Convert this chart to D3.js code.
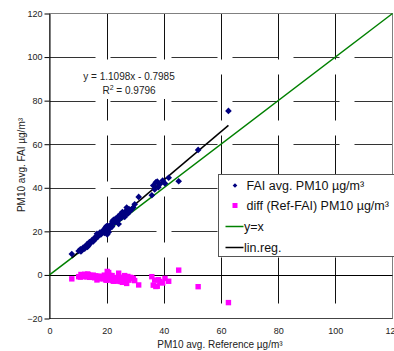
<!DOCTYPE html>
<html>
<head>
<meta charset="utf-8">
<script src="https://cdn.jsdelivr.net/npm/d3@7"></script>
<style>
  html, body { margin: 0; padding: 0; background: #fff; }
  svg { display: block; font-family: "Liberation Sans", Arial, sans-serif; }
</style>
</head>
<body>
<svg id="chart" width="394" height="351"></svg>
<script>
// PM10 reference vs FAI sampler averages (µg/m³)
const refValues = [7.8, 10.2, 10.8, 11.0, 11.3, 11.8, 12.3, 12.6, 13.1, 13.3, 13.6, 14.0, 14.4, 14.9, 15.3, 15.8,
  16.2, 16.6, 16.9, 17.1, 17.6, 18.0, 18.4, 18.9, 19.2, 19.6, 19.9, 20.0, 20.2, 20.3, 20.7, 21.1, 21.6, 21.9,
  22.0, 22.4, 22.8, 23.1, 23.5, 23.9, 24.0, 24.2, 24.5, 24.8, 25.2, 25.5, 25.9, 26.0, 26.3, 26.7, 27.0, 27.4,
  27.8, 28.2, 28.7, 29.3, 29.8, 31.2, 35.8, 36.3, 36.8, 37.2, 37.7, 38.1, 38.6, 39.6, 40.4, 41.7, 45.2, 52.0, 62.6];
const faiValues = [9.6, 11.0, 11.8, 10.8, 11.4, 12.6, 12.0, 13.2, 14.0, 12.9, 13.4, 15.1, 14.6, 16.0, 15.4, 17.1,
  16.6, 18.9, 17.6, 17.9, 19.4, 18.6, 19.9, 20.6, 19.3, 21.8, 22.3, 20.4, 18.6, 22.6, 19.6, 21.3, 23.4, 22.2,
  24.6, 25.3, 24.1, 25.8, 24.9, 26.7, 25.1, 23.4, 25.7, 27.8, 26.3, 28.9, 27.4, 28.3, 26.6, 29.4, 30.9, 28.1,
  30.2, 29.3, 30.0, 30.9, 32.4, 35.8, 36.6, 41.0, 39.2, 42.5, 42.9, 40.3, 41.6, 43.3, 42.0, 44.6, 43.0, 57.4, 75.3];
// Difference Ref - FAI for each sample
const diffValues = [-1.8, -0.8, -1.0, 0.2, -0.1, -0.8, 0.3, -0.6, -0.9, 0.4, 0.2, -1.1, -0.2, -1.1, -0.1, -1.3,
  -0.4, -2.3, -0.7, -0.8, -1.8, -0.6, -1.5, -1.7, -0.1, -2.2, -2.4, -0.4, 1.6, -2.3, 1.1, -0.2, -1.8, -0.3,
  -2.6, -2.9, -1.3, -2.7, -1.4, -2.8, -1.1, 0.8, -1.2, -3.0, -1.1, -3.4, -1.5, -2.3, -0.3, -2.7, -3.9, -0.7,
  -2.4, -1.1, -1.3, -1.6, -2.6, -4.6, -0.8, -4.7, -2.4, -5.3, -5.2, -2.2, -3.0, -3.7, -1.6, -2.9, 2.2, -5.4, -12.7];

// Linear regression of FAI on Ref
const regSlope = 1.1098;
const regIntercept = -0.7985;
const regR2 = 0.9796;

const xTicks = [0, 20, 40, 60, 80, 100, 120];
const yTicks = [-20, 0, 20, 40, 60, 80, 100, 120];

const legendLabels = ["FAI avg. PM10 µg/m³", "diff (Ref-FAI) PM10 µg/m³", "y=x", "lin.reg."];

const svg = d3.select("#chart");

const x = d3.scaleLinear().domain([0, 120]).range([49.5, 392.5]);
const y = d3.scaleLinear().domain([-20, 120]).range([318.5, 13.5]);

const navy = "#000080";
const magenta = "#ff00ff";
const green = "#008000";
const font = "'Liberation Sans', Arial, sans-serif";

// dashed grid
const grid = svg.append("g");
grid.selectAll("line.v").data(xTicks.filter(d => d > 0 && d < 120)).join("line")
  .attr("x1", d => Math.round(x(d)) + 0.5).attr("x2", d => Math.round(x(d)) + 0.5)
  .attr("y1", y(120)).attr("y2", y(-20))
  .attr("stroke", "#111").attr("stroke-width", 1).attr("stroke-dasharray", "46,15");
grid.selectAll("line.h").data(yTicks.filter(d => d > 0 && d < 120)).join("line")
  .attr("x1", x(0)).attr("x2", x(120))
  .attr("y1", d => Math.round(y(d)) + 0.5).attr("y2", d => Math.round(y(d)) + 0.5)
  .attr("stroke", "#333").attr("stroke-width", 1).attr("stroke-dasharray", "46,15");

// plot frame
svg.append("rect")
  .attr("x", x(0)).attr("y", y(120))
  .attr("width", x(120) - x(0)).attr("height", y(-20) - y(120))
  .attr("fill", "none").attr("stroke", "#808080");
svg.append("line")
  .attr("x1", x(0)).attr("x2", x(120)).attr("y1", y(-20)).attr("y2", y(-20))
  .attr("stroke", "#444");

// horizontal axis line at y = 0
svg.append("line")
  .attr("x1", x(0)).attr("x2", x(120))
  .attr("y1", Math.round(y(0)) + 0.5).attr("y2", Math.round(y(0)) + 0.5)
  .attr("stroke", "#000");

// y axis
const yAxis = svg.append("g")
  .attr("transform", `translate(${x(0)},0)`)
  .call(d3.axisLeft(y).tickValues(yTicks).tickSize(5).tickPadding(2).tickSizeOuter(0));
yAxis.select(".domain").attr("stroke", "#000");
yAxis.selectAll(".tick line").attr("stroke", "#000");
yAxis.selectAll(".tick text").attr("font-size", 9).attr("fill", "#222").attr("font-family", font);

// x axis labels along the bottom
const xAxis = svg.append("g")
  .attr("transform", `translate(0,${y(-20)})`)
  .call(d3.axisBottom(x).tickValues(xTicks).tickSize(0).tickPadding(9));
xAxis.select(".domain").remove();
xAxis.selectAll(".tick text").attr("font-size", 9).attr("fill", "#222").attr("font-family", font);

// y = x reference line
svg.append("line")
  .attr("x1", x(0)).attr("y1", y(0)).attr("x2", x(120)).attr("y2", y(120))
  .attr("stroke", green).attr("stroke-width", 1.5);

// regression line across the measured range
const xMin = d3.min(refValues), xMax = d3.max(refValues);
svg.append("line")
  .attr("x1", x(xMin)).attr("y1", y(regSlope * xMin + regIntercept))
  .attr("x2", x(xMax)).attr("y2", y(regSlope * xMax + regIntercept))
  .attr("stroke", "#000").attr("stroke-width", 1.5);

// FAI points
const faiPts = refValues.map((r, i) => [r, faiValues[i]]);
svg.append("g").selectAll("path").data(faiPts).join("path")
  .attr("d", d3.symbol(d3.symbolDiamond2, 28))
  .attr("transform", d => `translate(${x(d[0])},${y(d[1])})`)
  .attr("fill", navy);

// difference points
const diffPts = refValues.map((r, i) => [r, diffValues[i]]);
svg.append("g").selectAll("rect").data(diffPts).join("rect")
  .attr("x", d => x(d[0]) - 2.7).attr("y", d => y(d[1]) - 2.7)
  .attr("width", 5.4).attr("height", 5.4)
  .attr("fill", magenta);

// regression equation on a white label
const eqG = svg.append("g");
const eqBg = eqG.append("rect").attr("fill", "#fff");
const eq = eqG.append("text").attr("font-size", 10).attr("fill", "#222").attr("text-anchor", "middle")
  .attr("x", 129).attr("y", 80)
  .text(`y = ${regSlope.toFixed(4)}x - ${Math.abs(regIntercept).toFixed(4)}`);
const r2 = eqG.append("text").attr("font-size", 10).attr("fill", "#222").attr("text-anchor", "middle")
  .attr("x", 129).attr("y", 94);
r2.append("tspan").text("R");
r2.append("tspan").attr("font-size", 7).attr("dy", -4).text("2");
r2.append("tspan").attr("dy", 4).text(` = ${regR2.toFixed(4)}`);
const bb = eqG.node().getBBox();
eqBg.attr("x", bb.x - 3).attr("y", bb.y - 3).attr("width", bb.width + 6).attr("height", bb.height + 6);

// axis titles
svg.append("text").attr("x", 220).attr("y", 348).attr("text-anchor", "middle")
  .attr("font-size", 10).attr("fill", "#222").text("PM10 avg. Reference µg/m³");
svg.append("text").attr("transform", "translate(25,165) rotate(-90)").attr("text-anchor", "middle")
  .attr("font-size", 10).attr("fill", "#222").text("PM10 avg. FAI µg/m³");

// legend
const lg = svg.append("g").attr("transform", "translate(218.5,174.5)");
lg.append("rect").attr("width", 200).attr("height", 82)
  .attr("fill", "#fff").attr("stroke", "#555");
const rowY = [11, 31, 52, 73];
lg.append("path").attr("d", d3.symbol(d3.symbolDiamond2, 14))
  .attr("transform", `translate(16.5,${rowY[0]})`).attr("fill", navy);
lg.append("rect").attr("x", 14).attr("y", rowY[1] - 2.5).attr("width", 5).attr("height", 5).attr("fill", magenta);
lg.append("line").attr("x1", 7).attr("x2", 25).attr("y1", rowY[2]).attr("y2", rowY[2])
  .attr("stroke", green).attr("stroke-width", 1.5);
lg.append("line").attr("x1", 7).attr("x2", 25).attr("y1", rowY[3]).attr("y2", rowY[3])
  .attr("stroke", "#000").attr("stroke-width", 1.5);
lg.selectAll("text.lbl").data(legendLabels).join("text")
  .attr("x", (d, i) => i < 2 ? 28 : 25.5)
  .attr("y", (d, i) => rowY[i] + 4.5)
  .attr("font-size", 12.5).attr("fill", "#111")
  .text(d => d);
</script>
</body>
</html>
